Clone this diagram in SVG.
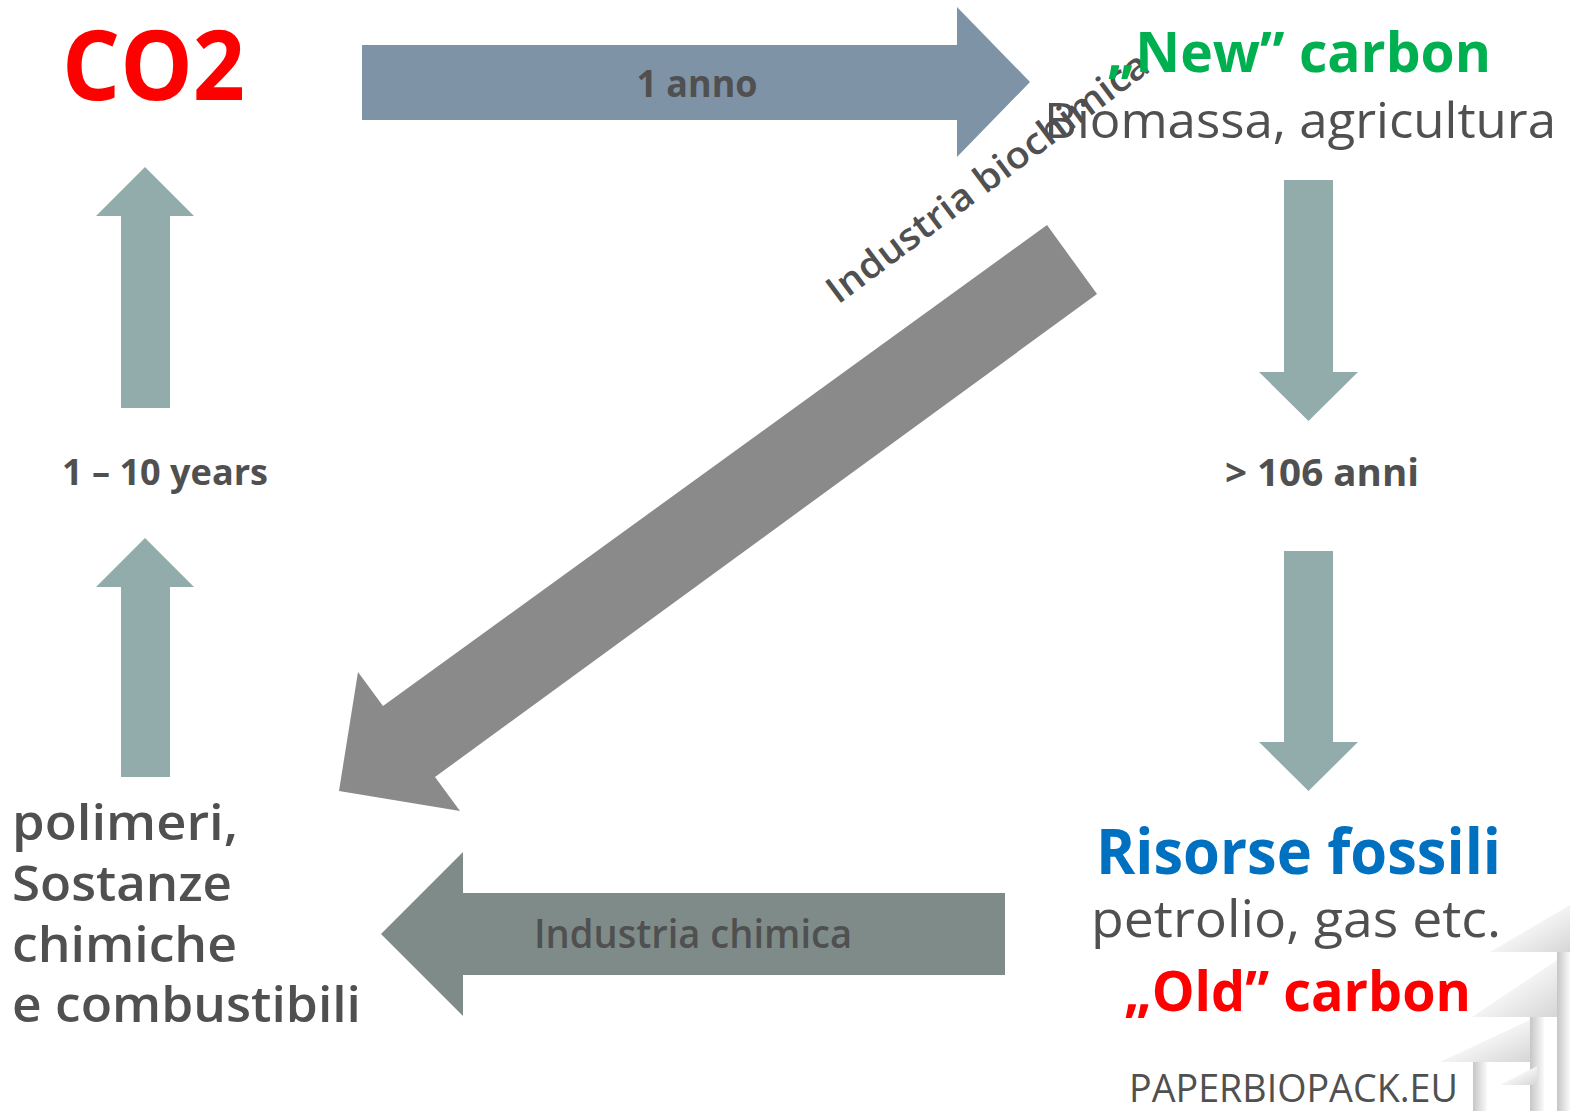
<svg xmlns="http://www.w3.org/2000/svg" width="1570" height="1111" viewBox="0 0 1570 1111">
  <defs>
    <style>
      .t { font-family: "Open Sans", "Liberation Sans", sans-serif; fill: #505050; }
      .b { font-weight: 700; }
      .sb { font-weight: 600; }
      .vert { fill: #92acab; }
    </style>
    <linearGradient id="shd" x1="0" y1="0" x2="1" y2="1">
      <stop offset="0.3" stop-color="#ffffff"/>
      <stop offset="1" stop-color="#d6d6d6"/>
    </linearGradient>
    <linearGradient id="vshd" x1="0" y1="0" x2="1" y2="0">
      <stop offset="0" stop-color="#c6c6c6"/>
      <stop offset="1" stop-color="#fafafa"/>
    </linearGradient>
  </defs>
  <rect width="1570" height="1111" fill="#ffffff"/>

  <g id="paper-decoration">
    <polygon points="1490,952 1570,952 1570,905" fill="url(#shd)"/>
    <rect x="1557" y="952" width="13" height="159" fill="url(#vshd)"/>
    <polygon points="1472,1017 1557,1017 1557,960" fill="url(#shd)"/>
    <rect x="1530" y="1017" width="14" height="94" fill="url(#vshd)"/>
    <polygon points="1440,1062 1530,1062 1530,1020" fill="url(#shd)"/>
    <rect x="1473" y="1062" width="14" height="49" fill="url(#vshd)"/>
    <polygon points="1500,1085 1537,1085 1537,1066" fill="url(#shd)"/>
  </g>

  <g id="connectors">
    <polygon id="arrow-1anno" fill="#7f93a6" points="362,45 957,45 957,7 1030,82 957,157 957,120 362,120"/>
    <polygon id="arrow-biochimica" fill="#8a8a8a" points="1047,225 1097,294 435,777 460,811 339,791 358,672 383,706"/>
    <polygon id="arrow-chimica" fill="#7f8b89" points="1005,893 463,893 463,852 381,934 463,1016 463,975 1005,975"/>
    <polygon class="vert" points="145,167 194,216 170,216 170,408 121,408 121,216 96,216"/>
    <polygon class="vert" points="145,538 194,587 170,587 170,777 121,777 121,587 96,587"/>
    <polygon class="vert" points="1284,180 1333,180 1333,372 1358,372 1308.5,421 1259,372 1284,372"/>
    <polygon class="vert" points="1284,551 1333,551 1333,742 1358,742 1308.5,791 1259,742 1284,742"/>
    <text class="t b" x="697" y="97" font-size="38" text-anchor="middle" textLength="121" lengthAdjust="spacingAndGlyphs">1 anno</text>
    <text class="t sb" x="534" y="948" font-size="40" textLength="318" lengthAdjust="spacingAndGlyphs">Industria chimica</text>
    <text class="t sb" font-size="37" transform="translate(838,305) rotate(-36.8)" textLength="392" lengthAdjust="spacingAndGlyphs">Industria biochimica</text>
    <text class="t b" x="62" y="485" font-size="35" textLength="206" lengthAdjust="spacingAndGlyphs">1 – 10 years</text>
    <text class="t b" x="1225" y="486" font-size="37" textLength="194" lengthAdjust="spacingAndGlyphs">&gt; 106 anni</text>
  </g>

  <g id="node-co2">
    <text class="b" x="62" y="100" font-size="96" fill="#ff0000" font-family="Open Sans, Liberation Sans, sans-serif" textLength="183" lengthAdjust="spacingAndGlyphs">CO2</text>
  </g>

  <g id="node-new-carbon">
    <text class="b" x="1107" y="72" font-size="56" fill="#00b050" font-family="Open Sans, Liberation Sans, sans-serif" textLength="384" lengthAdjust="spacingAndGlyphs">„New” carbon</text>
    <text class="t" x="1044" y="138" font-size="50" textLength="512" lengthAdjust="spacingAndGlyphs">Biomassa, agricultura</text>
  </g>

  <g id="node-fossili">
    <text class="b" x="1096" y="874" font-size="62" fill="#0070c0" font-family="Open Sans, Liberation Sans, sans-serif" textLength="405" lengthAdjust="spacingAndGlyphs">Risorse fossili</text>
    <text class="t" x="1091" y="937" font-size="52" textLength="410" lengthAdjust="spacingAndGlyphs">petrolio, gas etc.</text>
    <text class="b" x="1124" y="1011" font-size="55" fill="#ff0000" font-family="Open Sans, Liberation Sans, sans-serif" textLength="347" lengthAdjust="spacingAndGlyphs">„Old” carbon</text>
  </g>

  <g id="node-polimeri">
    <text class="t sb" x="12" y="840" font-size="49" textLength="226" lengthAdjust="spacingAndGlyphs">polimeri,</text>
    <text class="t sb" x="12" y="901" font-size="49" textLength="220" lengthAdjust="spacingAndGlyphs">Sostanze</text>
    <text class="t sb" x="12" y="962" font-size="49" textLength="225" lengthAdjust="spacingAndGlyphs">chimiche</text>
    <text class="t sb" x="12" y="1022" font-size="49" textLength="349" lengthAdjust="spacingAndGlyphs">e combustibili</text>
  </g>

  <g id="footer">
    <text class="t" x="1129" y="1102" font-size="38" fill="#595959" textLength="329" lengthAdjust="spacingAndGlyphs">PAPERBIOPACK.EU</text>
  </g>
</svg>
